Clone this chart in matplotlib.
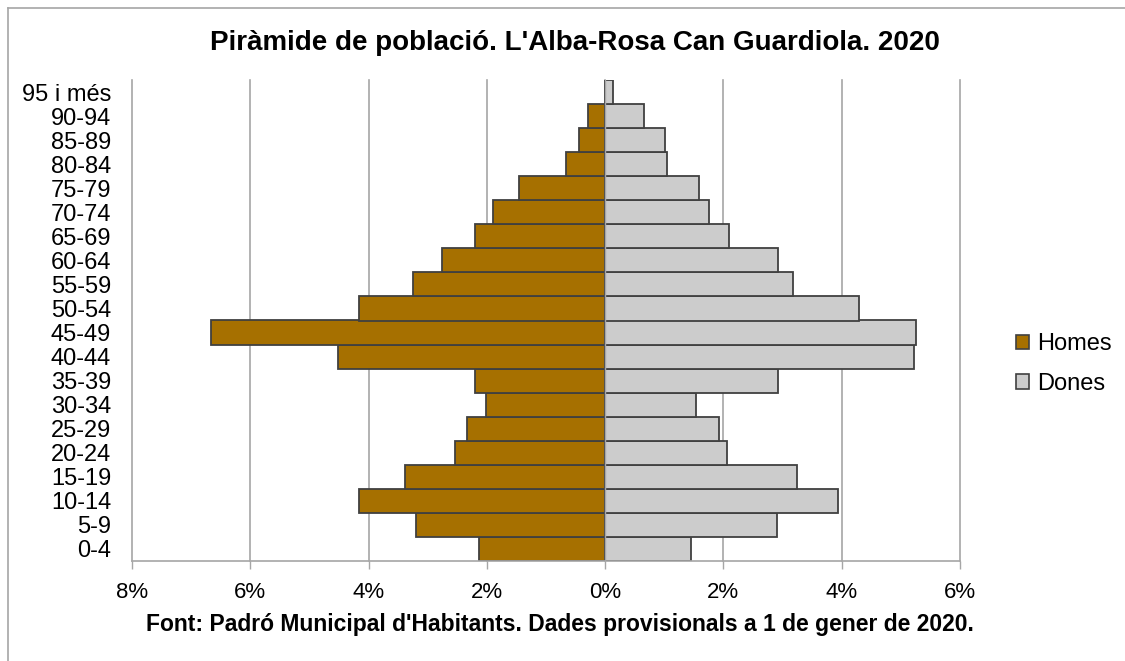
import matplotlib
matplotlib.use("Agg")
import matplotlib.pyplot as plt
from matplotlib.patches import Patch
from matplotlib.lines import Line2D
import numpy as np

plt.rcParams['font.family'] = ['Liberation Sans', 'DejaVu Sans']

age_groups = ["0-4", "5-9", "10-14", "15-19", "20-24", "25-29", "30-34", "35-39",
              "40-44", "45-49", "50-54", "55-59", "60-64", "65-69", "70-74", "75-79",
              "80-84", "85-89", "90-94", "95 i més"]
homes = [2.14, 3.19, 4.17, 3.39, 2.54, 2.34, 2.01, 2.20, 4.51, 6.67,
         4.17, 3.25, 2.76, 2.20, 1.89, 1.45, 0.66, 0.44, 0.29, 0.0]
dones = [1.46, 2.90, 3.94, 3.24, 2.06, 1.92, 1.53, 2.92, 5.22, 5.25,
         4.30, 3.18, 2.92, 2.09, 1.75, 1.58, 1.05, 1.01, 0.65, 0.14]
x_ticks = [-8, -6, -4, -2, 0, 2, 4, 6]
x_tick_labels = ["8%", "6%", "4%", "2%", "0%", "2%", "4%", "6%"]

title = "Piràmide de població. L'Alba-Rosa Can Guardiola. 2020"
footer = "Font: Padró Municipal d'Habitants. Dades provisionals a 1 de gener de 2020."

W, H = 1125, 661
fig = plt.figure(figsize=(W / 100, H / 100), dpi=100)
fig.patch.set_facecolor("white")

ax = fig.add_axes([132 / W, 1 - 561 / H, (960 - 132) / W, (561 - 80) / H])

c_men = "#A67000"
c_women = "#CCCCCC"
edge = "#404040"
grid_c = "#A6A6A6"

y = np.arange(len(age_groups))
ax.barh(y, [-v for v in homes], height=1.0, color=c_men, edgecolor=edge, linewidth=1.3, zorder=2)
ax.barh(y, dones, height=1.0, color=c_women, edgecolor=edge, linewidth=1.3, zorder=2)

ax.set_xlim(-8, 6)
ax.set_ylim(-0.5, len(age_groups) - 0.5)
ax.set_xticks(x_ticks)
ax.set_xticklabels(x_tick_labels, fontsize=16)
ax.set_yticks(y)
ax.set_yticklabels(age_groups, fontsize=17)

for xv in x_ticks:
    ax.axvline(xv, color=grid_c, linewidth=1.2, zorder=1, clip_on=False)
ax.axvline(0, color=grid_c, linewidth=1.0, zorder=3)

for s in ["top", "right", "left"]:
    ax.spines[s].set_visible(False)
ax.spines["bottom"].set_color(grid_c)
ax.spines["bottom"].set_linewidth(1.2)
ax.tick_params(axis="x", direction="out", length=6, width=1.0, color=grid_c, pad=9)
ax.tick_params(axis="y", length=0, pad=15)

fig.text(575 / W, 1 - 43 / H, title, ha="center", va="center", fontsize=20, fontweight="bold")
fig.text(560 / W, 1 - 624 / H, footer, ha="center", va="center", fontsize=16.5, fontweight="bold")

handles = [Patch(facecolor=c_men, edgecolor=edge, linewidth=1.2, label="Homes"),
           Patch(facecolor=c_women, edgecolor=edge, linewidth=1.2, label="Dones")]
fig.legend(handles=handles, loc="center left", bbox_to_anchor=(1004 / W, 1 - 364 / H),
           frameon=False, fontsize=17, handlelength=0.55, handleheight=0.55,
           handletextpad=0.35, labelspacing=0.75, borderpad=0)

fig.add_artist(Line2D([8 / W, 1], [1 - 8 / H, 1 - 8 / H], transform=fig.transFigure,
                      color=grid_c, linewidth=1.2))
fig.add_artist(Line2D([8 / W, 8 / W], [0, 1 - 8 / H], transform=fig.transFigure,
                      color=grid_c, linewidth=1.2))

fig.savefig("out.png", dpi=100)
